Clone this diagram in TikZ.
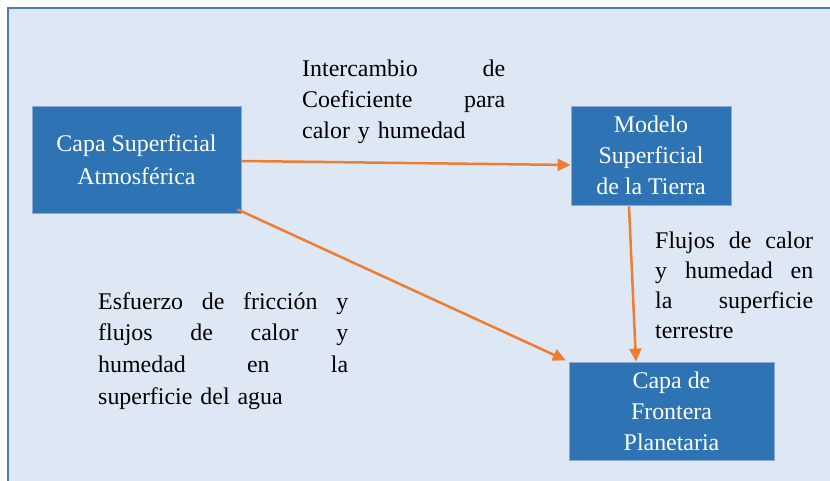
\documentclass[tikz,border=0pt]{standalone}
\usepackage{fontspec}
\setmainfont{Liberation Serif}
\usetikzlibrary{calc,arrows.meta}
\definecolor{bg}{HTML}{DEE8F4}
\definecolor{framec}{HTML}{4A7EBB}
\definecolor{boxfill}{HTML}{2E74B5}
\definecolor{boxline}{HTML}{8EA9CF}
\definecolor{arr}{HTML}{ED7D31}
\begin{document}
\begin{tikzpicture}[x=1bp,y=-1bp,
  box/.style={draw=boxline, line width=0.8bp, fill=boxfill, text=white, align=center, inner sep=0pt, font=\fontsize{24}{31}\selectfont},
  lbl/.style={inner sep=0pt, anchor=north west, align=left},
  conn/.style={draw=arr, line width=2.5bp, -{Triangle[length=13bp,width=12bp]}}]
\useasboundingbox (0,0) rectangle (830,481);
\fill[white] (0,0) rectangle (830,481);
\draw[framec, fill=bg, line width=1.5bp] (8,8) rectangle (850,500);
\node[box, minimum width=209bp, minimum height=107bp, font=\fontsize{24}{33}\selectfont] (atm) at (136.5,159.5) {Capa Superficial\\Atmosférica};
\node[box, minimum width=160bp, minimum height=99bp] (msl) at (651,155.5) {Modelo\\Superficial\\de la Tierra};
\node[box, minimum width=205bp, minimum height=98bp] (pbl) at (671.5,411) {Capa de\\Frontera\\Planetaria};
\node[lbl, text width=203bp, font=\fontsize{24}{31}\selectfont] (ltop) at (302,60)
  {\makebox[203bp][l]{Intercambio\hfill de}\\\makebox[203bp][l]{Coeficiente\hfill para}\\calor y humedad};
\node[lbl, text width=158bp, font=\fontsize{24}{30}\selectfont] (lright) at (655,232)
  {\makebox[158bp][l]{Flujos\hfill de\hfill calor}\\\makebox[158bp][l]{y\hfill humedad\hfill en}\\\makebox[158bp][l]{la\hfill superficie}\\terrestre};
\node[lbl, text width=250bp, font=\fontsize{24}{32}\selectfont] (lleft) at (98,292)
  {\makebox[250bp][l]{Esfuerzo\hfill de\hfill fricción\hfill y}\\\makebox[250bp][l]{flujos\hfill de\hfill calor\hfill y}\\\makebox[250bp][l]{humedad\hfill en\hfill la}\\superficie del agua};
\draw[conn] ($(atm.east)+(0,1.5)$) -- ($(msl.west)+(0,9.5)$);
\draw[conn, shorten >=3bp] ($(atm.south east)+(-4,-4)$) -- (pbl.north west);
\draw[conn] ($(msl.south)+(-22,1)$) -- ($(pbl.north)+(-35.5,0)$);
\end{tikzpicture}
\end{document}
